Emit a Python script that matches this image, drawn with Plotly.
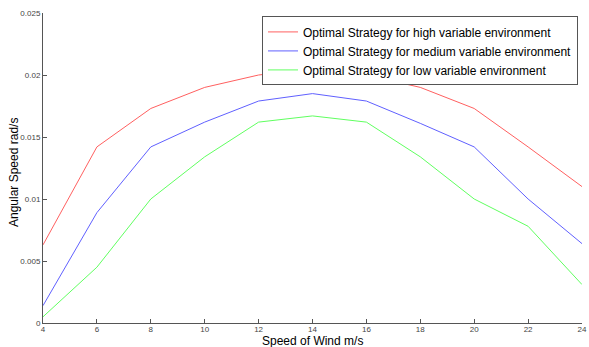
import plotly.graph_objects as go

wind_speed = [4, 6, 8, 10, 12, 14, 16, 18, 20, 22, 24]
high_var = [0.0063, 0.0142, 0.0173, 0.0190, 0.0200, 0.0205, 0.0200, 0.0190, 0.0173, 0.0142, 0.0110]
medium_var = [0.0014, 0.0089, 0.0142, 0.0162, 0.0179, 0.0185, 0.0179, 0.0161, 0.0142, 0.0100, 0.0064]
low_var = [0.0005, 0.0045, 0.0100, 0.0134, 0.0162, 0.0167, 0.0162, 0.0134, 0.0100, 0.0078, 0.0031]

names = ["Optimal Strategy for high variable environment",
         "Optimal Strategy for medium variable environment",
         "Optimal Strategy for low variable environment"]
colors = ["#ff6060", "#6060ff", "#60ff60"]

fig = go.Figure()
for ys, nm, c in zip([high_var, medium_var, low_var], names, colors):
    fig.add_trace(go.Scatter(x=wind_speed, y=ys, mode="lines", name=nm,
                             line=dict(color=c, width=1)))

axis_common = dict(showgrid=False, zeroline=False, showline=True, linecolor="#555555",
                   linewidth=1, ticks="inside", ticklen=4, tickcolor="#555555",
                   tickfont=dict(family="Liberation Sans, Arial", size=8, color="#444444"),
                   ticklabeloverflow="allow", mirror=False)

fig.update_layout(
    width=589, height=347,
    margin=dict(l=43, r=2, t=13, b=24),
    paper_bgcolor="white", plot_bgcolor="white",
    font=dict(family="Liberation Sans, Arial", color="black"),
    xaxis=dict(range=[4, 24], tickvals=[4, 6, 8, 10, 12, 14, 16, 18, 20, 22, 24],
               ticklabelstandoff=-2, **axis_common),
    yaxis=dict(range=[0, 0.025], tickvals=[0, 0.005, 0.01, 0.015, 0.02, 0.025],
               ticktext=["0", "0.005", "0.01", "0.015", "0.02", "0.025"],
               **axis_common),
    legend=dict(x=0.9926, y=0.989, xanchor="right", yanchor="top",
                bordercolor="#555555", borderwidth=1, bgcolor="white",
                font=dict(size=12, color="black"), tracegroupgap=0, itemwidth=30,
                traceorder="normal"),
    showlegend=True,
    annotations=[
        dict(text="Speed of Wind m/s", xref="paper", yref="paper",
             x=0.5, y=0, xanchor="center", yanchor="top", yshift=-9,
             showarrow=False, font=dict(size=12, color="black")),
        dict(text="Angular Speed rad/s", xref="paper", yref="paper",
             x=0, y=0.5, xanchor="center", yanchor="middle", xshift=-29, yshift=-5,
             textangle=-90, showarrow=False, font=dict(size=12, color="black")),
    ],
)

fig.write_html("out.html", post_script="document.body.style.margin='0';",
               config={"displayModeBar": False})
